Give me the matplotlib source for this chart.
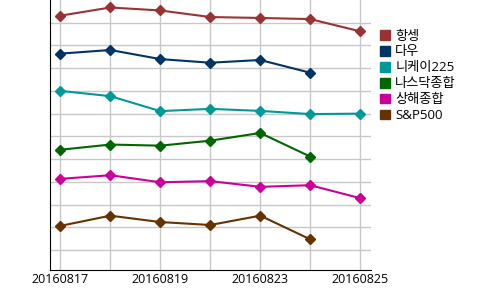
import numpy as np
import matplotlib
matplotlib.use("Agg")
import matplotlib.pyplot as plt
from matplotlib.patches import Patch

plt.rcParams['font.family'] = ['Open Sans', 'Noto Sans CJK KR', 'DejaVu Sans']

dates = ["20160817", "20160818", "20160819", "20160822", "20160823", "20160824", "20160825"]
nan = np.nan

# 정규화된 지수 (눈금 단위, 그림에서 읽은 값)
hangseng = [11.31, 11.67, 11.54, 11.25, 11.21, 11.16, 10.62]
dow = [9.64, 9.80, 9.40, 9.24, 9.36, 8.80, nan]
nikkei = [8.00, 7.77, 7.11, 7.21, 7.12, 6.98, 7.00]
nasdaq = [5.41, 5.64, 5.59, 5.81, 6.15, 5.11, nan]
shanghai = [4.13, 4.29, 3.98, 4.03, 3.78, 3.85, 3.28]
sp500 = [2.06, 2.51, 2.23, 2.10, 2.51, 1.47, nan]

names = ["항셍", "다우", "니케이225", "나스닥종합", "상해종합", "S&P500"]
series = [hangseng, dow, nikkei, nasdaq, shanghai, sp500]
colors = ["#993333", "#003366", "#009999", "#006600", "#cc0099", "#663300"]

fig = plt.figure(figsize=(5, 2.9), dpi=100)
ax = fig.add_axes([0.1006, 0.069, 0.6408, 0.931])

x = np.arange(len(dates))
for vals, c in zip(series, colors):
    ax.plot(x, vals, color=c, lw=1.5, marker="D", ms=4.6, zorder=3)

ax.set_xlim(-0.2, 6.21)
ax.set_ylim(0.12, 12.0)
ax.set_xticks(x)
ax.set_xticklabels([d if i % 2 == 0 else "" for i, d in enumerate(dates)], fontsize=9)
ax.set_yticks(range(1, 12))
ax.set_yticklabels([])
ax.tick_params(length=0, pad=2.5)
ax.grid(True, color="#c8c8c8", lw=1)
ax.set_axisbelow(True)
for s in ["top", "right"]:
    ax.spines[s].set_visible(False)
ax.spines["left"].set_color("black")
ax.spines["bottom"].set_color("black")

handles = [Patch(facecolor=c, edgecolor=c) for c in colors]
fig.legend(handles, names, loc="upper left", bbox_to_anchor=(0.76, 0.898),
           frameon=False, fontsize=9.5, handlelength=0.75, handleheight=0.75,
           handletextpad=0.4, labelspacing=0.22, borderpad=0, borderaxespad=0)

fig.savefig("out.png", dpi=100)
